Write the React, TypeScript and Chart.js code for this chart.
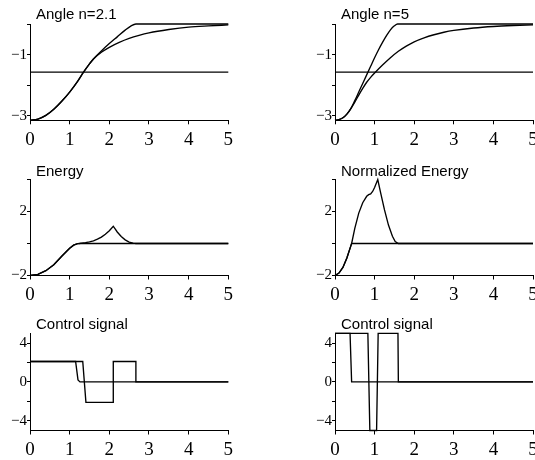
import React, { useEffect, useRef } from 'react';
import { Chart, registerables } from 'chart.js';

Chart.register(...registerables);

// ---------- tick values / labels ----------
const xTickValues = [0, 1, 2, 3, 4, 5];
const xTickLabels = ['0', '1', '2', '3', '4', '5'];
const angleTickValues = [-3, -2, -1, 0];
const angleTickLabels = ['−3', '', '−1', ''];
const energyTickValues = [-2, 0, 2, 4];
const energyTickLabels = ['−2', '', '2', ''];
const controlTickValues = [-4, -2, 0, 2, 4];
const controlTickLabels = ['−4', '', '0', '', '4'];

const panelTitles = ['Angle n=2.1', 'Angle n=5', 'Energy', 'Normalized Energy', 'Control signal', 'Control signal'];

// ---------- Angle n=2.1 ----------
const ang21FiniteX = [0, 0.2, 0.4, 0.6, 0.8, 1.0, 1.2, 1.35, 1.5, 1.6, 1.8, 2.0, 2.2, 2.4, 2.55, 2.67, 5];
const ang21FiniteY = [-3.14, -3.1, -2.98, -2.78, -2.52, -2.22, -1.87, -1.57, -1.3, -1.14, -0.88, -0.64, -0.42, -0.2, -0.06, 0, 0];
const ang21SmoothX = [0, 0.2, 0.4, 0.6, 0.8, 1.0, 1.2, 1.35, 1.5, 1.6, 1.8, 2.0, 2.25, 2.5, 2.75, 3.0, 3.5, 4.0, 4.5, 5.0];
const ang21SmoothY = [-3.14, -3.1, -2.98, -2.78, -2.52, -2.22, -1.87, -1.57, -1.3, -1.14, -0.92, -0.76, -0.6, -0.47, -0.37, -0.29, -0.18, -0.1, -0.06, -0.03];
const halfPiX = [0, 5];
const halfPiY = [-1.5708, -1.5708];

// ---------- Angle n=5 ----------
const ang5FastX = [0, 0.1, 0.2, 0.3, 0.4, 0.5, 0.6, 0.7, 0.8, 0.9, 1.0, 1.1, 1.2, 1.3, 1.4, 1.5, 1.58, 5];
const ang5FastY = [-3.14, -3.12, -3.06, -2.94, -2.76, -2.5, -2.22, -1.94, -1.66, -1.38, -1.1, -0.84, -0.6, -0.38, -0.19, -0.06, 0, 0];
const ang5SlowX = [0, 0.1, 0.2, 0.3, 0.4, 0.5, 0.6, 0.7, 0.8, 0.9, 1.0, 1.2, 1.4, 1.6, 1.8, 2.0, 2.25, 2.5, 2.75, 3.0, 3.5, 4.0, 4.5, 5.0];
const ang5SlowY = [-3.14, -3.12, -3.06, -2.94, -2.76, -2.55, -2.32, -2.1, -1.9, -1.74, -1.6, -1.34, -1.1, -0.89, -0.72, -0.58, -0.45, -0.35, -0.27, -0.21, -0.13, -0.08, -0.05, -0.03];

// ---------- Energy ----------
const energyPeakX = [0, 0.2, 0.4, 0.6, 0.8, 1.0, 1.1, 1.2, 1.25, 1.3, 1.4, 1.5, 1.6, 1.7, 1.8, 1.9, 2.0, 2.1, 2.2, 2.3, 2.4, 2.5, 2.6, 2.67, 5];
const energyPeakY = [-2, -1.93, -1.7, -1.33, -0.8, -0.3, -0.1, -0.01, 0, 0.02, 0.05, 0.1, 0.17, 0.27, 0.4, 0.58, 0.8, 1.08, 0.72, 0.44, 0.23, 0.09, 0.02, 0, 0];
const energyFlatX = [0, 0.2, 0.4, 0.6, 0.8, 1.0, 1.1, 1.2, 1.25, 5];
const energyFlatY = [-2, -1.93, -1.7, -1.33, -0.8, -0.3, -0.1, -0.01, 0, 0];

// ---------- Normalized Energy ----------
const normPeakX = [0, 0.1, 0.2, 0.3, 0.4, 0.42, 0.5, 0.6, 0.7, 0.8, 0.85, 0.9, 0.95, 1.0, 1.08, 1.15, 1.25, 1.35, 1.45, 1.52, 1.6, 5];
const normPeakY = [-2, -1.85, -1.5, -0.9, -0.15, 0, 0.95, 1.9, 2.55, 2.95, 3.05, 3.1, 3.25, 3.5, 4.0, 3.2, 2.1, 1.15, 0.45, 0.12, 0, 0];
const normFlatX = [0, 0.1, 0.2, 0.3, 0.4, 0.42, 5];
const normFlatY = [-2, -1.85, -1.5, -0.9, -0.15, 0, 0];

// ---------- Control signal (left) ----------
const ctrlLeftAX = [0, 1.33, 1.41, 2.1, 2.1, 2.67, 2.67, 5];
const ctrlLeftAY = [2.1, 2.1, -2.1, -2.1, 2.1, 2.1, 0, 0];
const ctrlLeftBX = [0, 1.15, 1.21, 1.26, 5];
const ctrlLeftBY = [2.1, 2.1, 0.2, 0, 0];

// ---------- Control signal (right) ----------
const ctrlRightAX = [0, 0.83, 0.88, 1.05, 1.09, 1.59, 1.6, 5];
const ctrlRightAY = [5, 5, -5, -5, 5, 5, 0, 0];
const ctrlRightBX = [0, 0.38, 0.42, 5];
const ctrlRightBY = [5, 5, 0, 0];

type Series = { x: number[]; y: number[]; smooth?: boolean };

type PanelSpec = {
  title: string;
  box: { x: number; y: number; w: number; h: number };
  area: { l: number; t: number; r: number; b: number };
  yMin: number;
  yMax: number;
  yTicks: number[];
  yLabels: string[];
  series: Series[];
  titleGap: number;
};

const colLeft = { x: 0, w: 240, l: 30, r: 228.3 };
const colRight = { x: 300, w: 235, l: 335, r: 533 };
const rowTop = { y: 0, h: 150, t: 24, b: 120.3, gap: 5.5 };
const rowMid = { y: 150, h: 155, t: 179.5, b: 275.5, gap: 4 };
const rowBot = { y: 305, h: 155, t: 333.3, b: 430.5, gap: 4 };

function mk(col: typeof colLeft, row: typeof rowTop) {
  return {
    box: { x: col.x, y: row.y, w: col.w, h: row.h },
    area: { l: col.l, t: row.t, r: col.r, b: row.b },
    titleGap: row.gap,
  };
}

const PI = 3.14159;

const panels: PanelSpec[] = [
  {
    title: panelTitles[0], ...mk(colLeft, rowTop), yMin: -PI, yMax: 0,
    yTicks: angleTickValues, yLabels: angleTickLabels,
    series: [
      { x: ang21FiniteX, y: ang21FiniteY, smooth: true },
      { x: ang21SmoothX, y: ang21SmoothY, smooth: true },
      { x: halfPiX, y: halfPiY },
    ],
  },
  {
    title: panelTitles[1], ...mk(colRight, rowTop), yMin: -PI, yMax: 0,
    yTicks: angleTickValues, yLabels: angleTickLabels,
    series: [
      { x: ang5FastX, y: ang5FastY, smooth: true },
      { x: ang5SlowX, y: ang5SlowY, smooth: true },
      { x: halfPiX, y: halfPiY },
    ],
  },
  {
    title: panelTitles[2], ...mk(colLeft, rowMid), yMin: -2, yMax: 4,
    yTicks: energyTickValues, yLabels: energyTickLabels,
    series: [
      { x: energyPeakX, y: energyPeakY },
      { x: energyFlatX, y: energyFlatY },
    ],
  },
  {
    title: panelTitles[3], ...mk(colRight, rowMid), yMin: -2, yMax: 4,
    yTicks: energyTickValues, yLabels: energyTickLabels,
    series: [
      { x: normPeakX, y: normPeakY },
      { x: normFlatX, y: normFlatY },
    ],
  },
  {
    title: panelTitles[4], ...mk(colLeft, rowBot), yMin: -5, yMax: 5,
    yTicks: controlTickValues, yLabels: controlTickLabels,
    series: [
      { x: ctrlLeftAX, y: ctrlLeftAY },
      { x: ctrlLeftBX, y: ctrlLeftBY },
    ],
  },
  {
    title: panelTitles[5], ...mk(colRight, rowBot), yMin: -5, yMax: 5,
    yTicks: controlTickValues, yLabels: controlTickLabels,
    series: [
      { x: ctrlRightAX, y: ctrlRightAY },
      { x: ctrlRightBX, y: ctrlRightBY },
    ],
  },
];

function Panel({ spec }: { spec: PanelSpec }) {
  const ref = useRef<HTMLCanvasElement | null>(null);
  useEffect(() => {
    const canvas = ref.current;
    if (!canvas) return;
    const { box, area } = spec;
    const titlePlugin = {
      id: 'panelTitle',
      afterDraw(chart: any) {
        const { ctx, chartArea } = chart;
        ctx.save();
        ctx.font = '15px "Liberation Sans"';
        ctx.fillStyle = '#000';
        ctx.textBaseline = 'alphabetic';
        ctx.textAlign = 'left';
        ctx.fillText(spec.title, chartArea.left + 6, chartArea.top - spec.titleGap);
        ctx.restore();
      },
    };
    const chart = new Chart(canvas, {
      type: 'line',
      data: {
        datasets: spec.series.map((s) => ({
          data: s.x.map((x, i) => ({ x, y: s.y[i] })),
          borderColor: '#000',
          borderWidth: 1.35,
          pointRadius: 0,
          fill: false,
          tension: 0,
          cubicInterpolationMode: s.smooth ? 'monotone' : 'default',
          clip: false,
        })) as any,
      },
      options: {
        animation: false,
        responsive: false,
        events: [],
        layout: {
          autoPadding: false,
          padding: { left: 0, top: area.t - box.y, right: box.x + box.w - area.r, bottom: 0 },
        },
        plugins: { legend: { display: false }, tooltip: { enabled: false }, title: { display: false } },
        scales: {
          x: {
            type: 'linear',
            min: 0,
            max: 5,
            afterBuildTicks: (s: any) => {
              s.ticks = xTickValues.map((v) => ({ value: v }));
            },
            afterFit: (s: any) => {
              s.height = box.y + box.h - area.b;
              s.paddingLeft = 0;
              s.paddingRight = 0;
            },
            ticks: {
              autoSkip: false,
              maxRotation: 0,
              padding: 4.5,
              color: '#000',
              font: { family: '"Liberation Serif"', size: 19 },
              callback: (v: any) => {
                const i = xTickValues.indexOf(Number(v));
                return i >= 0 ? xTickLabels[i] : '';
              },
            },
            grid: { drawOnChartArea: false, drawTicks: true, tickLength: 4, color: '#000', lineWidth: 1 },
            border: { display: true, color: '#000', width: 1 },
          },
          y: {
            type: 'linear',
            min: spec.yMin,
            max: spec.yMax,
            afterBuildTicks: (s: any) => {
              s.ticks = spec.yTicks.map((v) => ({ value: v }));
            },
            afterFit: (s: any) => {
              s.width = area.l - box.x;
              s.paddingTop = 0;
              s.paddingBottom = 0;
            },
            ticks: {
              autoSkip: false,
              padding: 0,
              color: '#000',
              font: { family: '"Liberation Serif"', size: 15 },
              callback: (v: any) => {
                const i = spec.yTicks.indexOf(Number(v));
                return i >= 0 ? spec.yLabels[i] : '';
              },
            },
            grid: { drawOnChartArea: false, drawTicks: true, tickLength: 3, color: '#000', lineWidth: 1 },
            border: { display: true, color: '#000', width: 1 },
          },
        },
      } as any,
      plugins: [titlePlugin],
    });
    return () => chart.destroy();
  }, [spec]);
  const { box } = spec;
  return (
    <canvas
      ref={ref}
      width={box.w}
      height={box.h}
      style={{ position: 'absolute', left: box.x, top: box.y, width: box.w, height: box.h }}
    />
  );
}

export default function App() {
  return (
    <div style={{ position: 'fixed', left: 0, top: 0, width: 535, height: 460, background: '#fff', overflow: 'hidden' }}>
      {panels.map((p, i) => (
        <Panel key={i} spec={p} />
      ))}
    </div>
  );
}
